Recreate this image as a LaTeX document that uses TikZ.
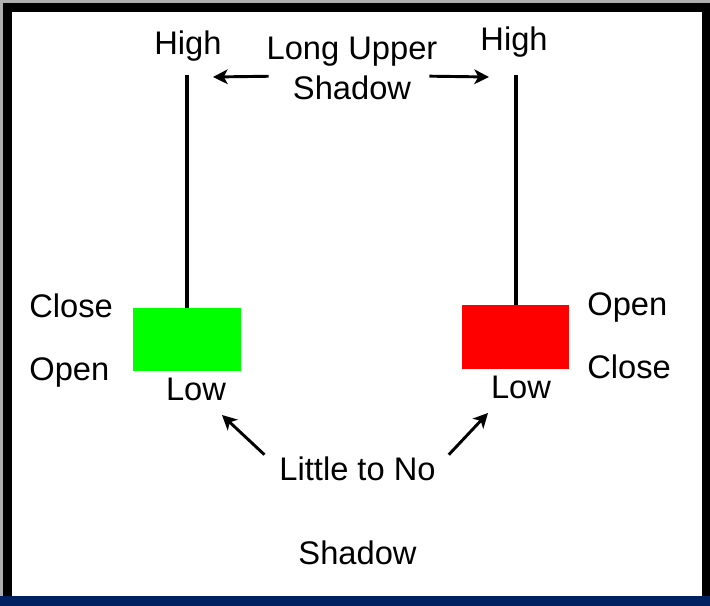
\documentclass[tikz,border=0pt]{standalone}
\usepackage{fontspec}
\setmainfont{Liberation Sans}
\usepackage{xcolor}
\usetikzlibrary{arrows.meta}

\definecolor{bull}{RGB}{0,255,0}
\definecolor{bear}{RGB}{255,0,0}
\definecolor{navy}{RGB}{0,33,96}
\definecolor{framegray}{RGB}{175,175,175}

\begin{document}
\begin{tikzpicture}[
    x = 0.75pt, y = -0.75pt, % one unit per pixel, y downwards
    >= {Stealth[length=11pt, width=11pt, inset=3pt]}, % arrow head style
    semithick % line style
]

\tikzstyle{word}=[
    inner sep = 0pt,
    font = \fontsize{24.5}{29}\selectfont
]
\tikzstyle{candle}=[
    draw = none,
    inner sep = 0pt
]
\tikzstyle{wick}=[line width = 3pt]
\tikzstyle{pointer}=[->, line width = 2.2pt]

\useasboundingbox (0,0) rectangle (710,606);
% frame
\fill[black] (0,0) rectangle (710,606);
\fill[framegray] (0,0) rectangle (3,596);
\fill[framegray] (0,0) rectangle (710,3);
\fill[white] (12,12) rectangle (702,596);
\fill[navy] (0,596) rectangle (710,606);

% candles
\node[candle, fill=bull, minimum width=81pt, minimum height=47.25pt] (G) at (187,339.5) {};
\node[candle, fill=bear, minimum width=80.25pt, minimum height=48pt] (R) at (515.5,337) {};
\coordinate (Gtop) at (187,75);
\coordinate (Rtop) at (515.5,75);
\draw[wick] (G.north) -- (Gtop);
\draw[wick] (R.north) -- (Rtop);

% labels
\node[word, anchor=base] (Hg) at (188,55) {High};
\node[word, anchor=base] (Hr) at (514,51) {High};
\node[word, anchor=base] (LU) at (352,60) {Long Upper};
\node[word, anchor=base] (US) at (352,100) {Shadow};
\node[word, anchor=base west] (Cg) at (29,317) {Close};
\node[word, anchor=base west] (Og) at (29,380) {Open};
\node[word, anchor=base west] (Or) at (587,315) {Open};
\node[word, anchor=base west] (Cr) at (587,378) {Close};
\node[word, anchor=base] (Lg) at (196,400) {Low};
\node[word, anchor=base] (Lr) at (521,398) {Low};
\node[word, anchor=base] (LN) at (357.5,480) {Little to No};
\node[word, anchor=base] (BS) at (357.5,564) {Shadow};

% arrows
\coordinate (upG) at (213,77);
\coordinate (upR) at (489,77);
\coordinate (lowG) at (222,415);
\coordinate (lowR) at (488,413);
\path [pointer, shorten <=18pt] (US.north west) edge (upG);
\path [pointer, shorten <=13.5pt] (US.north east) edge (upR);
\path [pointer, shorten <=15pt] (LN.west) edge (lowG);
\path [pointer, shorten <=14pt] (LN.east) edge (lowR);
\end{tikzpicture}
\end{document}
